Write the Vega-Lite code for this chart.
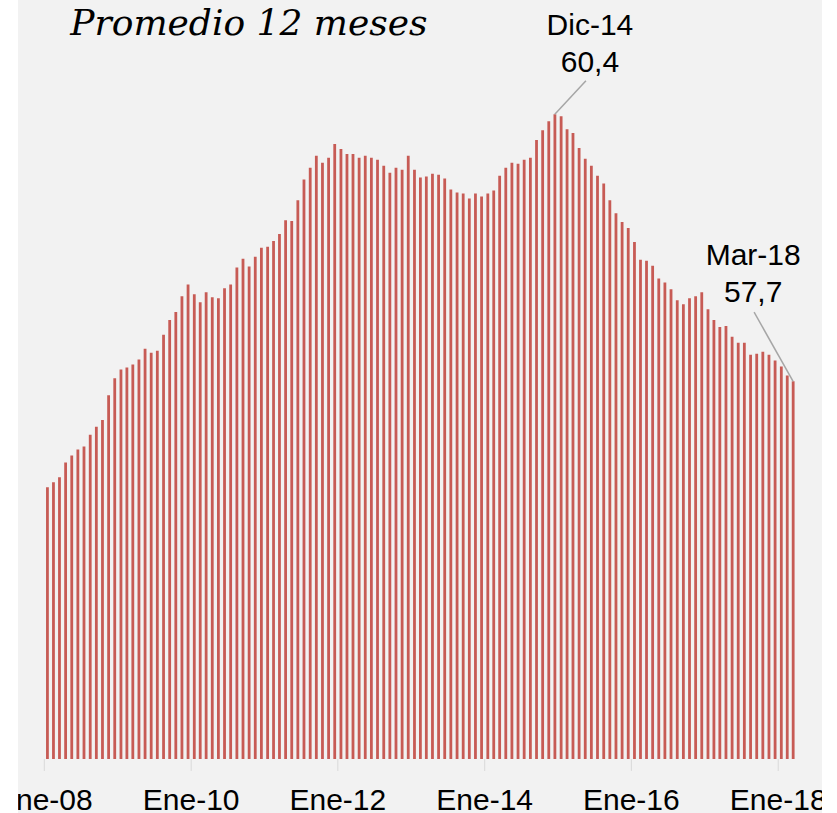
{
  "$schema": "https://vega.github.io/schema/vega-lite/v6.json",
  "width": 804,
  "height": 813,
  "autosize": {"type": "none"},
  "padding": {"left": 18, "right": 15, "top": 0, "bottom": 0},
  "background": "white",
  "view": {"fill": "#f2f2f2", "stroke": null},
  "datasets": {
    "serie": [
      {"date": "2008/01/01", "value": 56.63}, {"date": "2008/02/01", "value": 56.68}, {"date": "2008/03/01", "value": 56.73}, {"date": "2008/04/01", "value": 56.88}, {"date": "2008/05/01", "value": 56.95}, {"date": "2008/06/01", "value": 57.01}, {"date": "2008/07/01", "value": 57.04}, {"date": "2008/08/01", "value": 57.16}, {"date": "2008/09/01", "value": 57.24}, {"date": "2008/10/01", "value": 57.31}, {"date": "2008/11/01", "value": 57.56}, {"date": "2008/12/01", "value": 57.73},
      {"date": "2009/01/01", "value": 57.82}, {"date": "2009/02/01", "value": 57.84}, {"date": "2009/03/01", "value": 57.87}, {"date": "2009/04/01", "value": 57.92}, {"date": "2009/05/01", "value": 58.03}, {"date": "2009/06/01", "value": 57.99}, {"date": "2009/07/01", "value": 58.01}, {"date": "2009/08/01", "value": 58.17}, {"date": "2009/09/01", "value": 58.32}, {"date": "2009/10/01", "value": 58.40}, {"date": "2009/11/01", "value": 58.56}, {"date": "2009/12/01", "value": 58.68},
      {"date": "2010/01/01", "value": 58.58}, {"date": "2010/02/01", "value": 58.50}, {"date": "2010/03/01", "value": 58.60}, {"date": "2010/04/01", "value": 58.55}, {"date": "2010/05/01", "value": 58.54}, {"date": "2010/06/01", "value": 58.64}, {"date": "2010/07/01", "value": 58.68}, {"date": "2010/08/01", "value": 58.85}, {"date": "2010/09/01", "value": 58.94}, {"date": "2010/10/01", "value": 58.86}, {"date": "2010/11/01", "value": 58.96}, {"date": "2010/12/01", "value": 59.05},
      {"date": "2011/01/01", "value": 59.06}, {"date": "2011/02/01", "value": 59.12}, {"date": "2011/03/01", "value": 59.19}, {"date": "2011/04/01", "value": 59.33}, {"date": "2011/05/01", "value": 59.32}, {"date": "2011/06/01", "value": 59.53}, {"date": "2011/07/01", "value": 59.74}, {"date": "2011/08/01", "value": 59.86}, {"date": "2011/09/01", "value": 59.98}, {"date": "2011/10/01", "value": 59.91}, {"date": "2011/11/01", "value": 59.96}, {"date": "2011/12/01", "value": 60.10},
      {"date": "2012/01/01", "value": 60.05}, {"date": "2012/02/01", "value": 60.00}, {"date": "2012/03/01", "value": 60.00}, {"date": "2012/04/01", "value": 59.96}, {"date": "2012/05/01", "value": 59.98}, {"date": "2012/06/01", "value": 59.96}, {"date": "2012/07/01", "value": 59.94}, {"date": "2012/08/01", "value": 59.88}, {"date": "2012/09/01", "value": 59.81}, {"date": "2012/10/01", "value": 59.86}, {"date": "2012/11/01", "value": 59.84}, {"date": "2012/12/01", "value": 59.98},
      {"date": "2013/01/01", "value": 59.84}, {"date": "2013/02/01", "value": 59.76}, {"date": "2013/03/01", "value": 59.77}, {"date": "2013/04/01", "value": 59.80}, {"date": "2013/05/01", "value": 59.79}, {"date": "2013/06/01", "value": 59.75}, {"date": "2013/07/01", "value": 59.64}, {"date": "2013/08/01", "value": 59.61}, {"date": "2013/09/01", "value": 59.60}, {"date": "2013/10/01", "value": 59.55}, {"date": "2013/11/01", "value": 59.60}, {"date": "2013/12/01", "value": 59.57},
      {"date": "2014/01/01", "value": 59.60}, {"date": "2014/02/01", "value": 59.63}, {"date": "2014/03/01", "value": 59.78}, {"date": "2014/04/01", "value": 59.86}, {"date": "2014/05/01", "value": 59.91}, {"date": "2014/06/01", "value": 59.90}, {"date": "2014/07/01", "value": 59.94}, {"date": "2014/08/01", "value": 59.96}, {"date": "2014/09/01", "value": 60.14}, {"date": "2014/10/01", "value": 60.24}, {"date": "2014/11/01", "value": 60.33}, {"date": "2014/12/01", "value": 60.40},
      {"date": "2015/01/01", "value": 60.38}, {"date": "2015/02/01", "value": 60.25}, {"date": "2015/03/01", "value": 60.21}, {"date": "2015/04/01", "value": 60.06}, {"date": "2015/05/01", "value": 59.95}, {"date": "2015/06/01", "value": 59.88}, {"date": "2015/07/01", "value": 59.78}, {"date": "2015/08/01", "value": 59.70}, {"date": "2015/09/01", "value": 59.53}, {"date": "2015/10/01", "value": 59.40}, {"date": "2015/11/01", "value": 59.31}, {"date": "2015/12/01", "value": 59.25},
      {"date": "2016/01/01", "value": 59.11}, {"date": "2016/02/01", "value": 58.93}, {"date": "2016/03/01", "value": 58.92}, {"date": "2016/04/01", "value": 58.87}, {"date": "2016/05/01", "value": 58.74}, {"date": "2016/06/01", "value": 58.70}, {"date": "2016/07/01", "value": 58.63}, {"date": "2016/08/01", "value": 58.52}, {"date": "2016/09/01", "value": 58.48}, {"date": "2016/10/01", "value": 58.54}, {"date": "2016/11/01", "value": 58.56}, {"date": "2016/12/01", "value": 58.60},
      {"date": "2017/01/01", "value": 58.43}, {"date": "2017/02/01", "value": 58.32}, {"date": "2017/03/01", "value": 58.25}, {"date": "2017/04/01", "value": 58.26}, {"date": "2017/05/01", "value": 58.15}, {"date": "2017/06/01", "value": 58.09}, {"date": "2017/07/01", "value": 58.09}, {"date": "2017/08/01", "value": 57.97}, {"date": "2017/09/01", "value": 57.98}, {"date": "2017/10/01", "value": 58.00}, {"date": "2017/11/01", "value": 57.97}, {"date": "2017/12/01", "value": 57.91},
      {"date": "2018/01/01", "value": 57.85}, {"date": "2018/02/01", "value": 57.76}, {"date": "2018/03/01", "value": 57.70}
    ],
    "guias": [
      {"g": "dic14", "date": "2014/12/16", "value": 60.4},
      {"g": "dic14", "date": "2015/05/20", "value": 60.74},
      {"g": "mar18", "date": "2018/03/16", "value": 57.7},
      {"g": "mar18", "date": "2017/09/03", "value": 58.4}
    ]
  },
  "layer": [
    {
      "data": {"name": "serie"},
      "mark": {"type": "rule", "color": "#c75b55", "strokeWidth": 2.8},
      "encoding": {
        "x": {
          "field": "date", "type": "temporal", "timeUnit": "yearmonth", "bandPosition": 0.5,
          "scale": {"domain": [{"year": 2007, "month": 8, "date": 23}, {"year": 2018, "month": 8, "date": 7}]},
          "axis": null
        },
        "y": {
          "field": "value", "type": "quantitative",
          "scale": {"domain": [53.335, 61.556], "nice": false, "zero": false},
          "axis": null
        },
        "y2": {"datum": 53.88}
      }
    },
    {
      "data": {"name": "serie"},
      "transform": [{"filter": "month(datum.date) == 0 && year(datum.date) % 2 == 0"}],
      "mark": {"type": "rule", "color": "#d9d9d9", "strokeWidth": 1},
      "encoding": {
        "x": {"field": "date", "type": "temporal"},
        "y": {"datum": 53.88},
        "y2": {"datum": 53.76}
      }
    },
    {
      "data": {"name": "serie"},
      "transform": [{"filter": "month(datum.date) == 0 && year(datum.date) % 2 == 0"}],
      "mark": {"type": "text", "clip": true, "font": "Liberation Sans", "fontSize": 30, "color": "black", "align": "center", "baseline": "alphabetic"},
      "encoding": {
        "x": {"field": "date", "type": "temporal"},
        "y": {"datum": 53.365},
        "text": {"field": "date", "type": "temporal", "format": "Ene-%y"}
      }
    },
    {
      "data": {"values": [{"titulo": "Promedio 12 meses"}]},
      "mark": {"type": "text", "font": "DejaVu Serif", "fontStyle": "italic", "fontSize": 36, "color": "black", "align": "left", "baseline": "alphabetic", "dx": 26},
      "encoding": {
        "x": {"datum": {"year": 2008, "month": 1, "date": 1}, "type": "temporal"},
        "y": {"datum": 61.2},
        "text": {"field": "titulo"}
      }
    },
    {
      "data": {"name": "guias"},
      "mark": {"type": "line", "color": "#a6a6a6", "strokeWidth": 1.5},
      "encoding": {
        "x": {"field": "date", "type": "temporal"},
        "y": {"field": "value", "type": "quantitative"},
        "detail": {"field": "g"}
      }
    },
    {
      "data": {"values": [{"date": "2014/12/01", "value": 60.4, "label": "Dic-14"}]},
      "mark": {"type": "text", "font": "Liberation Sans", "fontSize": 30, "color": "black", "align": "center", "baseline": "alphabetic", "dx": 35, "dy": -79},
      "encoding": {
        "x": {"field": "date", "type": "temporal", "timeUnit": "yearmonth", "bandPosition": 0.5},
        "y": {"field": "value", "type": "quantitative"},
        "text": {"field": "label"}
      }
    },
    {
      "data": {"values": [{"date": "2014/12/01", "value": 60.4, "label": "60,4"}]},
      "mark": {"type": "text", "font": "Liberation Sans", "fontSize": 30, "color": "black", "align": "center", "baseline": "alphabetic", "dx": 35, "dy": -42},
      "encoding": {
        "x": {"field": "date", "type": "temporal", "timeUnit": "yearmonth", "bandPosition": 0.5},
        "y": {"field": "value", "type": "quantitative"},
        "text": {"field": "label"}
      }
    },
    {
      "data": {"values": [{"date": "2018/03/01", "value": 57.7, "label": "Mar-18"}]},
      "mark": {"type": "text", "font": "Liberation Sans", "fontSize": 30, "color": "black", "align": "center", "baseline": "alphabetic", "dx": -40, "dy": -116},
      "encoding": {
        "x": {"field": "date", "type": "temporal", "timeUnit": "yearmonth", "bandPosition": 0.5},
        "y": {"field": "value", "type": "quantitative"},
        "text": {"field": "label"}
      }
    },
    {
      "data": {"values": [{"date": "2018/03/01", "value": 57.7, "label": "57,7"}]},
      "mark": {"type": "text", "font": "Liberation Sans", "fontSize": 30, "color": "black", "align": "center", "baseline": "alphabetic", "dx": -40, "dy": -79},
      "encoding": {
        "x": {"field": "date", "type": "temporal", "timeUnit": "yearmonth", "bandPosition": 0.5},
        "y": {"field": "value", "type": "quantitative"},
        "text": {"field": "label"}
      }
    }
  ]
}
